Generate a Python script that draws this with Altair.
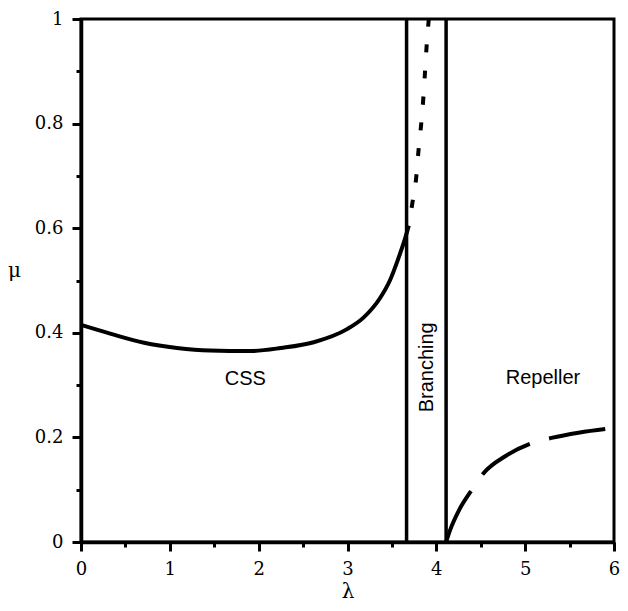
import altair as alt
import pandas as pd

# CSS branch (solid)
css_lam = [0.0, 0.337, 0.71, 1.08, 1.45, 1.9, 2.25, 2.62, 2.995, 3.18, 3.365, 3.477, 3.57, 3.644, 3.69]
css_mu = [0.415, 0.398, 0.381, 0.371, 0.366, 0.365, 0.371, 0.382, 0.407, 0.429, 0.466, 0.50, 0.541, 0.578, 0.605]

# continuation (dotted)
dot_lam = [3.69, 3.73, 3.774, 3.80, 3.83, 3.855, 3.874, 3.893, 3.915]
dot_mu = [0.605, 0.648, 0.698, 0.75, 0.80, 0.852, 0.903, 0.954, 1.0]

# repeller branch (long dashes)
rep_lam = [4.11, 4.16, 4.256, 4.405, 4.534, 4.776, 5.073, 5.296, 5.6, 6.0]
rep_mu = [0.0, 0.025, 0.061, 0.101, 0.132, 0.164, 0.189, 0.199, 0.209, 0.218]

# region boundaries
bound_lam = [3.665, 4.11]

# region labels
lab_text = ["CSS", "Repeller"]
lab_lam = [1.85, 5.2]
lab_mu = [0.311, 0.313]
branch_text = ["Branching"]
branch_lam = [3.89]
branch_mu = [0.334]

x_ticks = [0, 0.5, 1, 1.5, 2, 2.5, 3, 3.5, 4, 4.5, 5, 5.5, 6]
y_ticks = [0, 0.1, 0.2, 0.3, 0.4, 0.5, 0.6, 0.7, 0.8, 0.9, 1]

css_df = pd.DataFrame({"lam": css_lam, "mu": css_mu})
dot_df = pd.DataFrame({"lam": dot_lam, "mu": dot_mu})
rep_df = pd.DataFrame({"lam": rep_lam, "mu": rep_mu})
bound_df = pd.DataFrame({"lam": bound_lam})
lab_df = pd.DataFrame({"lam": lab_lam, "mu": lab_mu, "text": lab_text})
branch_df = pd.DataFrame({"lam": branch_lam, "mu": branch_mu, "text": branch_text})

SERIF = "DejaVu Serif"
SANS = "Liberation Sans"

x_axis = alt.Axis(
    values=x_ticks,
    labelExpr="datum.value % 1 === 0 ? format(datum.value, 'd') : ''",
    tickSize={"condition": {"test": "datum.value % 1 === 0", "value": 9}, "value": 5},
    tickWidth=3, tickColor="black", domainWidth=3.5, domainColor="black",
    grid=False, labelFlush=False, labelColor="black",
    labelFont=SERIF, labelFontSize=18,
    labelPadding=9,
    title="λ", titleFontWeight="normal", titleColor="black",
    titleFont=SERIF, titleFontSize=20,
    titleBaseline="middle", titleY=49,
)
y_axis = alt.Axis(
    values=y_ticks,
    labelExpr="round(datum.value*10) % 2 === 0 ? (datum.value === 0 ? '0' : (datum.value === 1 ? '1' : format(datum.value, '.1f'))) : ''",
    tickSize={"condition": {"test": "round(datum.value*10) % 2 === 0", "value": 9}, "value": 5},
    tickWidth=3, tickColor="black", domainWidth=3.5, domainColor="black",
    grid=False, labelFlush=False, labelColor="black",
    labelFont=SERIF, labelFontSize=18,
    labelPadding=9,
    title="μ", titleFontWeight="normal", titleColor="black",
    titleFont=SERIF, titleFontSize=20,
    titleAngle=0, titleAlign="center", titleBaseline="middle", titleX=-67, titleY=251,
)

xs = alt.Scale(domain=[0, 6], nice=False, zero=False)
ys = alt.Scale(domain=[0, 1], nice=False, zero=False)

css = alt.Chart(css_df).mark_line(color="black", strokeWidth=4, interpolate="monotone").encode(
    x=alt.X("lam:Q", scale=xs, axis=x_axis),
    y=alt.Y("mu:Q", scale=ys, axis=y_axis),
)
dots = alt.Chart(dot_df).mark_line(color="black", strokeWidth=4, interpolate="monotone",
                                   strokeDash=[8, 18], strokeDashOffset=8).encode(
    x="lam:Q", y="mu:Q")
rep = alt.Chart(rep_df).mark_line(color="black", strokeWidth=4, interpolate="monotone",
                                  strokeDash=[57, 20]).encode(
    x="lam:Q", y="mu:Q")
bounds = alt.Chart(bound_df).mark_rule(color="black", strokeWidth=3.5).encode(x="lam:Q")
labels = alt.Chart(lab_df).mark_text(font=SANS, fontSize=20, color="black",
                                     align="center", baseline="middle").encode(
    x="lam:Q", y="mu:Q", text="text:N")
branch = alt.Chart(branch_df).mark_text(font=SANS, fontSize=20, color="black", angle=270,
                                        align="center", baseline="middle").encode(
    x="lam:Q", y="mu:Q", text="text:N")

chart = alt.layer(css, dots, rep, bounds, labels, branch).properties(
    width=533, height=523,
    background="white",
    autosize=alt.AutoSizeParams(type="none"),
    padding={"left": 73, "top": 11, "right": 6, "bottom": 61},
).configure_view(
    stroke="black", strokeWidth=3
)

chart.save("out.html", embed_options={"renderer": "svg", "actions": False})
